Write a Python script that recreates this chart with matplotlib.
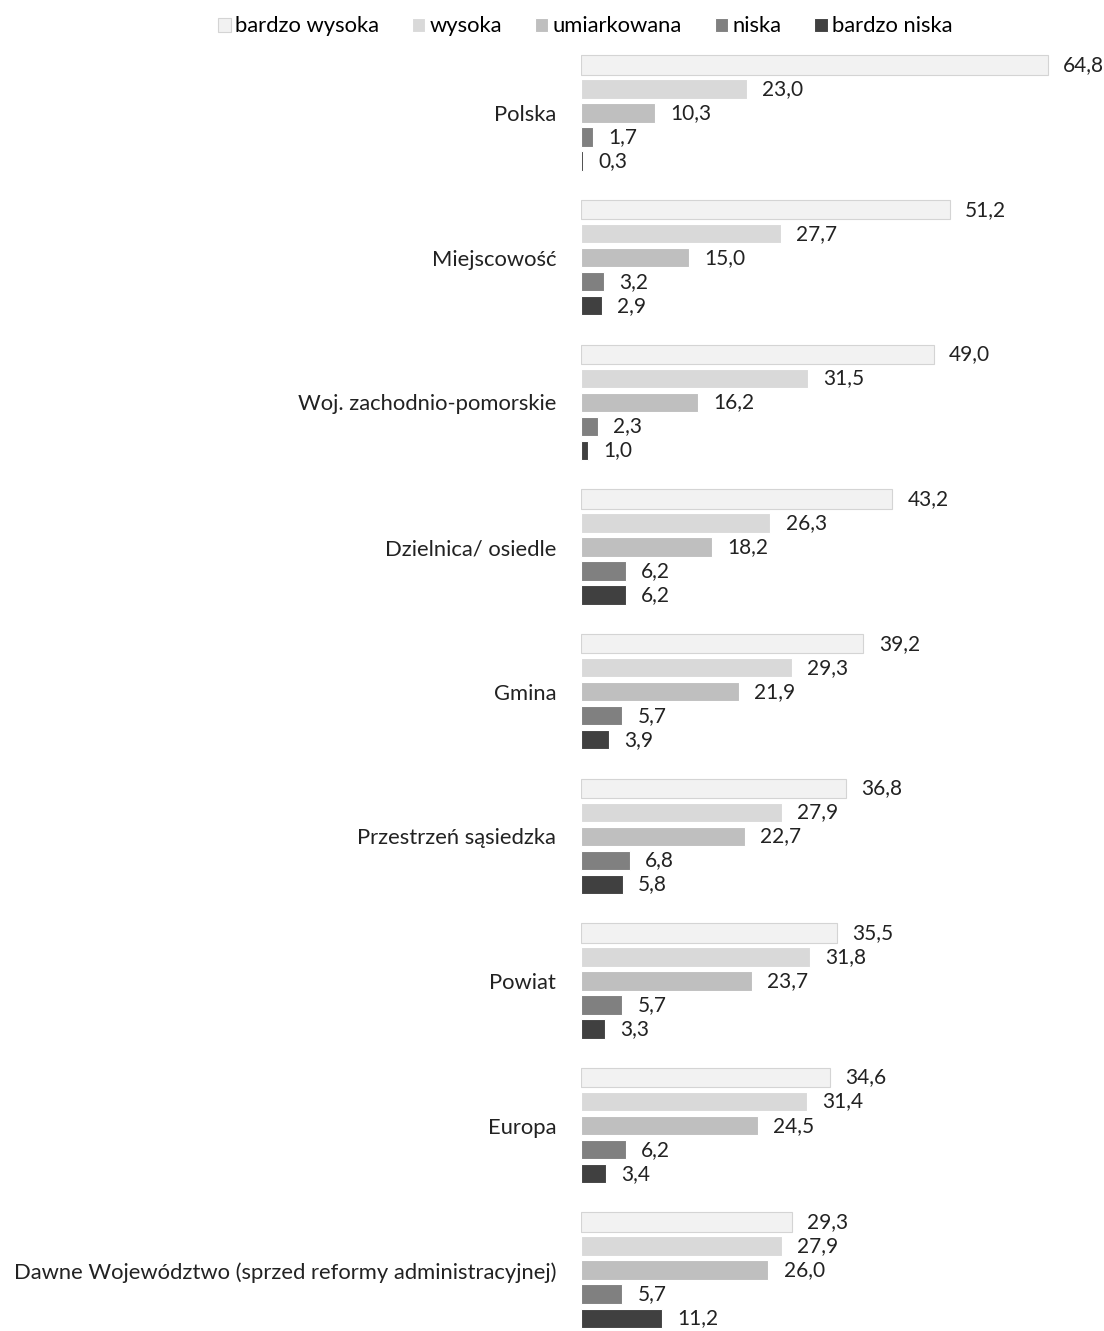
import numpy as np
import matplotlib.pyplot as plt

plt.rcParams['font.family'] = ['Lato', 'DejaVu Sans']

categories = ['Polska', 'Miejscowość', 'Woj. zachodnio-pomorskie', 'Dzielnica/ osiedle',
              'Gmina', 'Przestrzeń sąsiedzka', 'Powiat', 'Europa',
              'Dawne Województwo (sprzed reformy administracyjnej)']
series_names = ['bardzo wysoka', 'wysoka', 'umiarkowana', 'niska', 'bardzo niska']
bardzo_wysoka = [64.8, 51.2, 49.0, 43.2, 39.2, 36.8, 35.5, 34.6, 29.3]
wysoka = [23.0, 27.7, 31.5, 26.3, 29.3, 27.9, 31.8, 31.4, 27.9]
umiarkowana = [10.3, 15.0, 16.2, 18.2, 21.9, 22.7, 23.7, 24.5, 26.0]
niska = [1.7, 3.2, 2.3, 6.2, 5.7, 6.8, 5.7, 6.2, 5.7]
bardzo_niska = [0.3, 2.9, 1.0, 6.2, 3.9, 5.8, 3.3, 3.4, 11.2]
colors = ['#f2f2f2', '#d9d9d9', '#bfbfbf', '#808080', '#404040']
edges = ['#d4d4d4', 'white', 'white', 'white', 'white']

values = [bardzo_wysoka, wysoka, umiarkowana, niska, bardzo_niska]

fig = plt.figure(figsize=(11.04, 13.31), dpi=100)
ax = fig.add_axes([0.5263, 0.0, 0.4737, 0.9694])

y = np.arange(len(categories))
step = 0.166
h = 0.135
for j, (name, vals) in enumerate(zip(series_names, values)):
    pos = y + (j - 2) * step
    bars = ax.barh(pos, vals, height=h, color=colors[j], edgecolor=edges[j],
                   linewidth=0.8, label=name)
    for b, v in zip(bars, vals):
        ax.annotate(f'{v:.1f}'.replace('.', ','), (v, b.get_y() + b.get_height() / 2),
                    xytext=(11, 0), textcoords='offset points',
                    va='center', ha='left', fontsize=15, color='#222222')

ax.set_xlim(0, 72.6)
ax.set_ylim(8.42, -0.5)
ax.set_yticks(y)
ax.set_yticklabels(categories, fontsize=15.8, color='#222222')
ax.tick_params(axis='y', length=0, pad=18)
ax.set_xticks([])
for s in ax.spines.values():
    s.set_visible(False)

fig.legend(loc='upper center', bbox_to_anchor=(0.53, 1.0), ncol=5, frameon=False,
           fontsize=15.8, handlelength=0.6, handleheight=0.6, handletextpad=0.2,
           columnspacing=1.5, borderaxespad=0.35)

fig.savefig('out.png', dpi=100)
